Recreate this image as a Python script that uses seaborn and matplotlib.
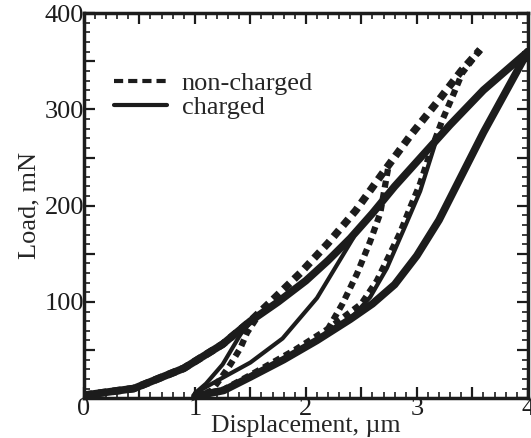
import matplotlib
matplotlib.use("Agg")
import matplotlib.pyplot as plt
from matplotlib.ticker import MultipleLocator
import seaborn as sns

# non-charged (dashed) curves, displacement um / load mN
nc_load_x = [0, 0.45, 0.9, 1.25, 1.5, 1.7, 1.95, 2.2, 2.45, 2.7, 2.95, 3.2, 3.4, 3.57]
nc_load_y = [3, 10, 31, 56, 80, 102, 130, 161, 195, 235, 274, 310, 340, 362]
nc_unl_x = [3.57, 3.41, 3.32, 3.23, 3.12, 3.03, 2.94, 2.85, 2.75, 2.64, 2.5, 2.2, 1.9, 1.5, 1.26, 1.0]
nc_unl_y = [362, 338, 313, 289, 255, 223, 198, 172, 148, 122, 98, 72, 50, 24, 9, 2]
nc_mid_x = [2.74, 2.67, 2.58, 2.46, 2.33, 2.2]
nc_mid_y = [238, 192, 163, 129, 98, 72]
nc_low_x = [1.55, 1.47, 1.41, 1.32, 1.23, 1.15, 1.05]
nc_low_y = [82, 68, 52, 35, 20, 8, 3]

# charged (solid) curves
ch_load_x = [0, 0.45, 0.9, 1.25, 1.5, 1.75, 2.0, 2.2, 2.4, 2.6, 2.8, 3.05, 3.3, 3.6, 4.0]
ch_load_y = [3, 10, 31, 56, 80, 100, 122, 143, 166, 192, 220, 252, 284, 320, 360]
ch_unl_x = [4.0, 3.6, 3.2, 3.0, 2.8, 2.6, 2.4, 2.1, 1.8, 1.5, 1.26, 1.0]
ch_unl_y = [360, 276, 185, 148, 118, 98, 82, 60, 40, 22, 8, 2]
ch_hi_x = [3.17, 3.03, 2.9, 2.73, 2.58, 2.4]
ch_hi_y = [266, 215, 180, 135, 105, 82]
ch_mid_x = [2.43, 2.1, 1.79, 1.5, 1.2, 1.0]
ch_mid_y = [167, 104, 62, 37, 18, 5]
ch_low_x = [1.5, 1.41, 1.25, 1.1, 1.0]
ch_low_y = [80, 66, 35, 15, 5]

x_labels = ["0", "", "1", "", "2", "", "3", "", "4"]
y_labels = ["", "", "100", "", "200", "", "300", "", "400"]

sns.set_theme(style="ticks")
plt.rcParams["font.family"] = ["Liberation Serif", "DejaVu Serif"]

fig = plt.figure(figsize=(5.31, 4.38), dpi=100)
ax = fig.add_axes([0.158, 0.091, 0.836, 0.879])

ink = "#1c1c1c"
dash = (0, (1.1, 0.8))
thick = 5.5
thin = 3.0

solid = [(ch_load_x, ch_load_y, thick), (ch_unl_x, ch_unl_y, thick),
         (ch_hi_x, ch_hi_y, thin), (ch_mid_x, ch_mid_y, thin), (ch_low_x, ch_low_y, thin)]
dashed = [(nc_load_x, nc_load_y, thick), (nc_unl_x, nc_unl_y, thick - 1),
          (nc_mid_x, nc_mid_y, thin + 1.5), (nc_low_x, nc_low_y, thin + 1.5)]

for xs, ys, w in solid:
    sns.lineplot(x=xs, y=ys, ax=ax, sort=False, estimator=None, color=ink,
                 lw=w, solid_capstyle="round", solid_joinstyle="round")
for xs, ys, w in dashed:
    sns.lineplot(x=xs, y=ys, ax=ax, sort=False, estimator=None, color=ink,
                 lw=w, linestyle=dash, dash_capstyle="butt")

h1, = ax.plot([], [], color=ink, lw=3, linestyle=(0, (2.2, 1.2)))
h2, = ax.plot([], [], color=ink, lw=3)
ax.legend([h1, h2], ["non-charged", "charged"], loc="upper left",
          bbox_to_anchor=(0.015, 0.91), frameon=False, fontsize=19,
          handlelength=2.0, labelspacing=0.02, handletextpad=0.55)

ax.set_xlim(0, 4)
ax.set_ylim(0, 400)
ax.set_xticks([i * 0.5 for i in range(9)], x_labels)
ax.set_yticks([i * 50 for i in range(9)], y_labels)
ax.xaxis.set_minor_locator(MultipleLocator(0.1))
ax.yaxis.set_minor_locator(MultipleLocator(10))
ax.tick_params(which="both", direction="in", top=True, right=True, colors=ink,
               labelsize=19, pad=0)
ax.tick_params(which="major", length=8, width=1.6)
ax.tick_params(which="minor", length=4, width=1.2)
for s in ax.spines.values():
    s.set_linewidth(2.5)
    s.set_color(ink)

ax.set_xlabel("Displacement, µm", fontsize=18.5, labelpad=-3.5)
ax.set_ylabel("Load, mN", fontsize=19, labelpad=3)

fig.savefig("out.png", dpi=100)
